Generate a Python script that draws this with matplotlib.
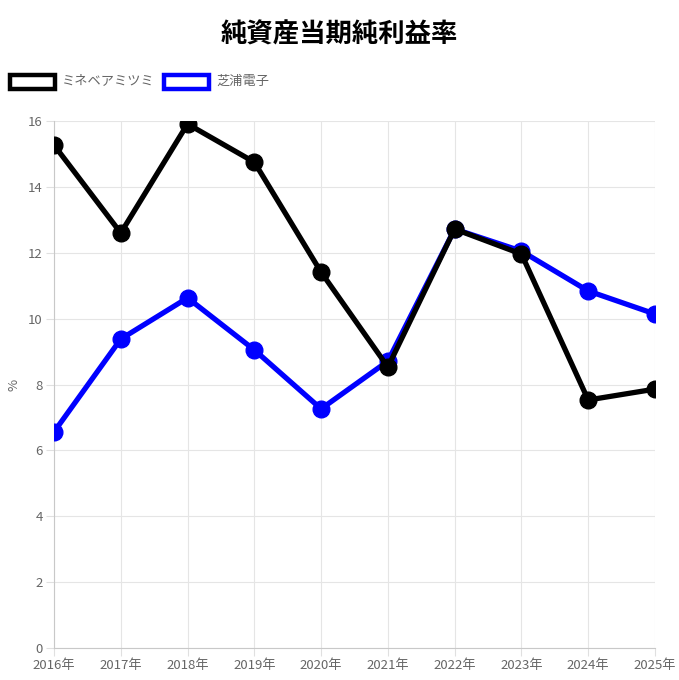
import matplotlib.pyplot as plt
from matplotlib.patches import Rectangle

plt.rcParams['font.family'] = ['Noto Sans CJK JP', 'DejaVu Sans']

years = ['2016年', '2017年', '2018年', '2019年', '2020年', '2021年', '2022年', '2023年', '2024年', '2025年']
minebea = [15.27, 12.60, 15.91, 14.75, 11.41, 8.53, 12.72, 11.96, 7.53, 7.86]
shibaura = [6.56, 9.38, 10.63, 9.05, 7.26, 8.71, 12.72, 12.05, 10.84, 10.14]
series_names = ['ミネベアミツミ', '芝浦電子']
colors = ['black', 'blue']

W, H = 679, 680
fig = plt.figure(figsize=(W / 100, H / 100), dpi=100)
ax = fig.add_axes([54 / W, 32 / H, 601 / W, 527 / H])

x = range(len(years))
# first series on top, like chart.js
for z, vals, c, name in zip([4, 3], [minebea, shibaura], colors, series_names):
    ax.plot(x, vals, color=c, lw=3.8, marker='o', ms=12, label=name, zorder=z)

ax.set_xlim(0, len(years) - 1)
ax.set_ylim(0, 16)
ax.set_yticks(range(0, 17, 2))
ax.set_xticks(list(x))
ax.set_xticklabels(years)
ax.tick_params(colors='#666666', labelsize=9.5, length=6, width=0.8, pad=2)
ax.tick_params(axis='both', color='#e0e0e0')
ax.grid(color='#e5e5e5', lw=0.8)
for s in ['top', 'right']:
    ax.spines[s].set_visible(False)
for s in ['left', 'bottom']:
    ax.spines[s].set_color('#c8c8c8')
ax.set_ylabel('%', color='#666666', fontsize=9.5)
ax.yaxis.set_label_coords(-34 / 601, 0.5)

fig.text(0.5, 1 - 35 / H, '純資産当期純利益率', ha='center', va='center',
         fontsize=19, fontweight='bold')

# legend drawn manually like chart.js
legend_x = [10, 164]
for lx, c, name in zip(legend_x, colors, series_names):
    fig.patches.append(Rectangle((lx / W, 1 - 89 / H), 45 / W, 14 / H, transform=fig.transFigure,
                                 facecolor='white', edgecolor=c, lw=3.2))
    fig.text((lx + 52) / W, 1 - 81 / H, name, ha='left', va='center', fontsize=9.5, color='#666666')

fig.savefig('out.png', dpi=100)
